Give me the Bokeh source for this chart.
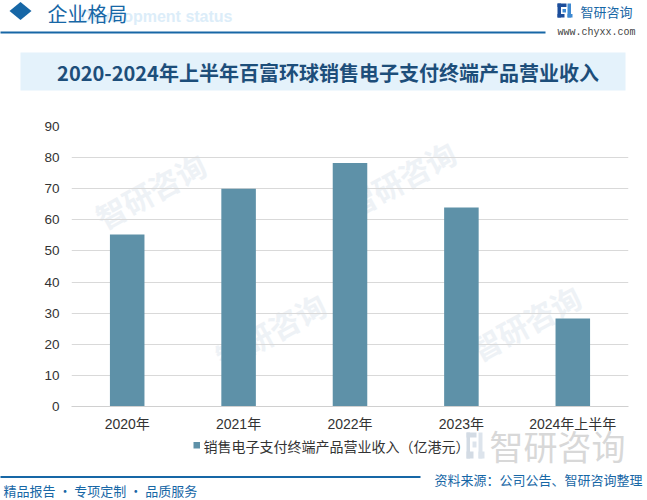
from bokeh.plotting import figure
from bokeh.models import Range1d, FactorRange, ColumnDataSource, FixedTicker
from bokeh.core.properties import value
from bokeh.embed import file_html
from bokeh.resources import INLINE

# ---------------- data ----------------
categories = ["2020年", "2021年", "2022年", "2023年", "2024年上半年"]
revenue = [55.3, 70.0, 78.3, 64.0, 28.3]
y_ticks = [0, 10, 20, 30, 40, 50, 60, 70, 80, 90]
series_name = "销售电子支付终端产品营业收入（亿港元）"
title_text = "2020-2024年上半年百富环球销售电子支付终端产品营业收入"
header_text = "企业格局"
header_ghost = "Development status"
brand_text = "智研咨询"
brand_url = "www.chyxx.com"
footer_left = "精品报告 · 专项定制 · 品质服务"
footer_source = "资料来源：公司公告、智研咨询整理"

# ---------------- style ----------------
BAR = "#5e91a8"
BLUE = "#1767a6"
DARK_TITLE = "#1d4e7a"
TXT = "#333333"
CJK = "Noto Sans CJK SC"
LAT = "Liberation Sans, Noto Sans CJK SC"

W, H = 647, 500
FL, FR, FT, FB = 71, 628, 126, 406   # plot frame in page pixels
NCAT = len(categories)


def X(px_list):
    """page pixel x -> synthetic categorical coordinate (decorations only)"""
    return [(v - FL) / (FR - FL) * NCAT for v in px_list]


p = figure(width=W, height=H,
           x_range=FactorRange(*categories, range_padding=0),
           y_range=Range1d(0, 90),
           output_backend="svg", toolbar_location=None,
           min_border_left=FL, min_border_right=W - FR,
           min_border_top=FT, min_border_bottom=H - FB)
p.outline_line_color = None
p.background_fill_color = "white"
p.border_fill_color = "white"

# pixel y range for page decorations
p.extra_y_ranges = {"py": Range1d(FB, FT)}
PX = dict(y_range_name="py")

# faint diagonal watermarks inside the plot area
wm_x = [150, 400, 270, 525]
wm_y = [190, 178, 330, 322]
p.text(x=X(wm_x), y=wm_y, text=[brand_text] * len(wm_x), angle=0.5,
       text_font=value(CJK), text_font_size="30px", text_font_style="bold",
       text_color="#eef2f6", text_align="center", text_baseline="middle",
       level="underlay", **PX)

# ---------------- bars ----------------
src = ColumnDataSource(dict(cat=categories, val=revenue))
bars = p.vbar(x="cat", top="val", width=0.31, source=src,
              fill_color=BAR, line_color=None)

# ---------------- axes & grid ----------------
p.xgrid.grid_line_color = None
p.ygrid.grid_line_color = "#d9d9d9"
p.ygrid.ticker = FixedTicker(ticks=y_ticks)

p.xaxis.axis_line_color = "#d0d0d0"
p.xaxis.major_tick_line_color = None
p.xaxis.minor_tick_line_color = None
p.xaxis.major_tick_out = 0
p.xaxis.major_tick_in = 0
p.xaxis.major_label_standoff = 9
p.xaxis.major_label_text_font = LAT
p.xaxis.major_label_text_font_size = "14px"
p.xaxis.major_label_text_color = TXT

p.yaxis.ticker = FixedTicker(ticks=y_ticks)
p.yaxis.axis_line_color = None
p.yaxis.major_tick_line_color = None
p.yaxis.minor_tick_line_color = None
p.yaxis.major_tick_out = 0
p.yaxis.major_tick_in = 0
p.yaxis.major_label_standoff = 12
p.yaxis.major_label_text_font = LAT
p.yaxis.major_label_text_font_size = "13.5px"
p.yaxis.major_label_text_color = TXT

# ---------------- legend (series key below the axis) ----------------
p.quad(left=X([193]), right=X([199.5]), top=[441.5], bottom=[448],
       fill_color=BAR, line_color=None, level="overlay", **PX)
p.text(x=X([203]), y=[445], text=[series_name], text_font=value(CJK),
       text_font_size="14px", text_color=TXT, text_align="left",
       text_baseline="middle", level="overlay", **PX)

# ---------------- header ----------------
p.text(x=X([232]), y=[16], text=[header_ghost], text_font=value("Liberation Sans"),
       text_font_size="16px", text_font_style="bold", text_color="#dcedf9",
       text_align="right", text_baseline="middle", level="overlay", **PX)
p.patch(x=X([9, 20, 31, 20]), y=[10.5, 1.5, 10.5, 19.5], fill_color=BLUE,
        line_color=None, level="overlay", **PX)
p.text(x=X([47]), y=[12.5], text=[header_text], text_font=value(CJK),
       text_font_size="20px", text_color=BLUE, text_align="left",
       text_baseline="middle", level="overlay", **PX)
p.segment(x0=X([0]), y0=[32], x1=X([545]), y1=[32], line_color=BLUE, line_width=2,
          level="overlay", **PX)

# brand logo (top right)
p.quad(left=X([557, 557, 557]), right=X([566, 560.5, 564]), top=[3, 3, 13.5],
       bottom=[6.5, 17, 17], fill_color="#1b4d9b", line_color=None,
       level="overlay", **PX)
p.quad(left=X([562, 567, 567]), right=X([565.5, 570.5, 572]), top=[8.5, 3, 13.5],
       bottom=[12, 17, 17], fill_color="#3f8ad2", line_color=None,
       level="overlay", **PX)
p.text(x=X([580]), y=[11], text=[brand_text], text_font=value(CJK),
       text_font_size="13px", text_color=BLUE, text_align="left",
       text_baseline="middle", level="overlay", **PX)
p.text(x=X([557]), y=[31.5], text=[brand_url], text_font=value("Liberation Mono"),
       text_font_size="10px", text_color="#444444", text_align="left",
       text_baseline="middle", level="overlay", **PX)

# title bar
p.quad(left=X([20]), right=X([625]), top=[52], bottom=[90], fill_color="#e4f2fb",
       line_color=None, level="overlay", **PX)
p.text(x=X([327.5]), y=[72], text=[title_text], text_font=value(CJK),
       text_font_size="20px", text_font_style="bold", text_color=DARK_TITLE,
       text_align="center", text_baseline="middle", level="overlay", **PX)

# ---------------- footer ----------------
p.quad(left=X([466, 466, 466]), right=X([476, 469.5, 473]), top=[432, 432, 451],
       bottom=[437, 458, 458], fill_color="#d3dbe4", line_color=None,
       level="overlay", **PX)
p.quad(left=X([472, 478, 478]), right=X([476, 482, 484]), top=[441, 432, 451],
       bottom=[447, 458, 458], fill_color="#dde4ec", line_color=None,
       level="overlay", **PX)
p.text(x=X([489]), y=[445], text=[brand_text], text_font=value(CJK),
       text_font_size="34px", text_color="#d8d8d8", text_align="left",
       text_baseline="middle", level="overlay", **PX)
p.segment(x0=X([0]), y0=[476.5], x1=X([420]), y1=[476.5], line_color=BLUE,
          line_width=2, level="overlay", **PX)
p.text(x=X([3]), y=[490], text=[footer_left], text_font=value(CJK),
       text_font_size="13px", text_color=BLUE, text_align="left",
       text_baseline="middle", level="overlay", **PX)
p.text(x=X([434]), y=[479], text=[footer_source], text_font=value(CJK),
       text_font_size="13px", text_color=BLUE, text_align="left",
       text_baseline="middle", level="overlay", **PX)

open("out.html", "w").write(file_html(p, INLINE))
